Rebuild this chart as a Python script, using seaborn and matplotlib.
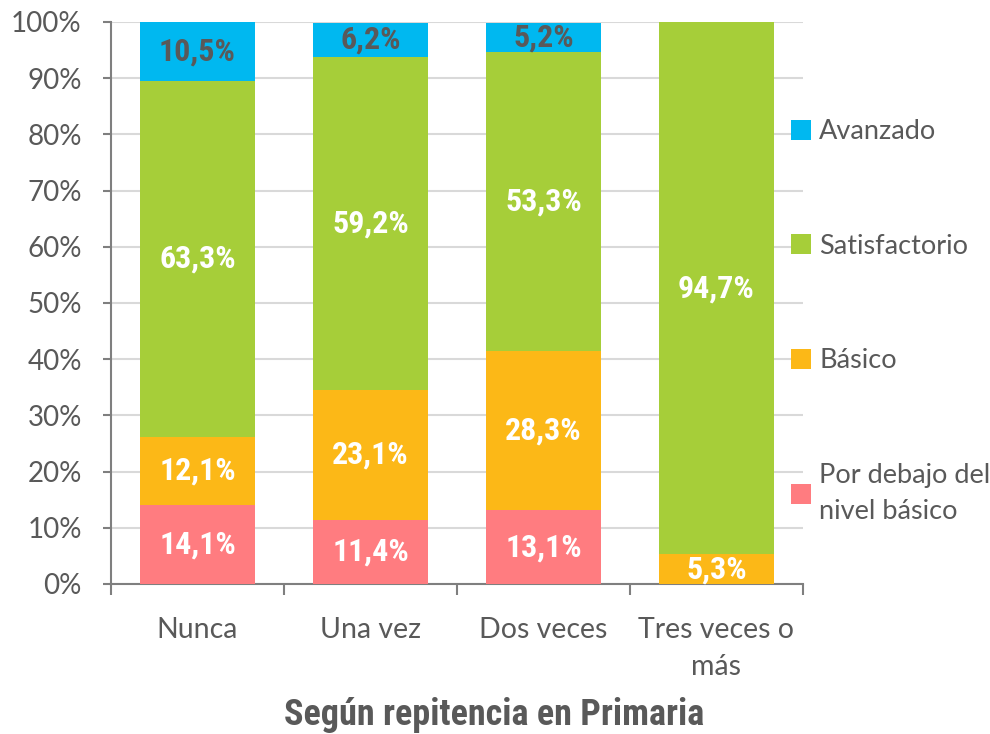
import numpy as np
import pandas as pd
import matplotlib
matplotlib.use("Agg")
import matplotlib.pyplot as plt
import seaborn as sns
from matplotlib.patches import Patch
from matplotlib.ticker import FixedLocator, PercentFormatter

# Datos
categorias = ["Nunca", "Una vez", "Dos veces", "Tres veces o\nmás"]
niveles = ["Por debajo del\nnivel básico", "Básico", "Satisfactorio", "Avanzado"]
por_debajo = [14.1, 11.4, 13.1, 0.0]
basico = [12.1, 23.1, 28.3, 5.3]
satisfactorio = [63.3, 59.2, 53.3, 94.7]
avanzado = [10.5, 6.2, 5.2, 0.0]
colores = ["#FF7C80", "#FCB817", "#A6CE39", "#00B8F0"]
color_etiqueta = ["white", "white", "white", "#595959"]

fuente_cond = ["Roboto Condensed", "Roboto", "DejaVu Sans"]

sns.set_theme(style="white")
plt.rcParams["font.family"] = ["Lato", "DejaVu Sans"]

df = pd.DataFrame({"categoria": categorias, niveles[0]: por_debajo, niveles[1]: basico,
                   niveles[2]: satisfactorio, niveles[3]: avanzado})

fig = plt.figure(figsize=(9.9, 7.34), dpi=100)
ax = fig.add_axes([0.1121, 0.2044, 0.699, 0.7657])

base = np.zeros(len(categorias))
for nivel, color, tc in zip(niveles, colores, color_etiqueta):
    vals = df[nivel].to_numpy()
    sns.barplot(x=df["categoria"], y=vals, bottom=base, color=color, width=0.665,
                ax=ax, saturation=1, linewidth=0, zorder=3)
    for i, v in enumerate(vals):
        if v > 0:
            ax.text(i, base[i] + v / 2, f"{v:.1f}%".replace(".", ","), ha="center", va="center",
                    color=tc, fontsize=23, fontweight="bold", family=fuente_cond, zorder=4)
    base = base + vals

ax.set_xlim(-0.5, 3.5)
ax.set_ylim(0, 100)
ax.yaxis.set_major_locator(FixedLocator(np.arange(0, 101, 10)))
ax.yaxis.set_major_formatter(PercentFormatter(decimals=0))
ax.grid(axis="y", color="#D9D9D9", linewidth=1.5, zorder=0)
ax.set_axisbelow(True)
for s in ["top", "right"]:
    ax.spines[s].set_visible(False)
for s in ["left", "bottom"]:
    ax.spines[s].set_color("#7F7F7F")
    ax.spines[s].set_linewidth(1.5)
ax.tick_params(axis="y", left=True, length=6, width=1.5, color="#7F7F7F",
               labelsize=20, labelcolor="#595959", pad=15)
ax.tick_params(axis="x", which="major", length=0, labelsize=20.5, labelcolor="#595959", pad=24)
ax.xaxis.set_minor_locator(FixedLocator(np.arange(-0.5, 3.6, 1)))
ax.tick_params(axis="x", which="minor", bottom=True, length=8, width=1.5, color="#7F7F7F")
ax.set_xlabel("")
for lbl in ax.get_xticklabels():
    lbl.set_linespacing(1.5)

handles = [Patch(facecolor=c, edgecolor="none") for c in colores][::-1]
leg = fig.legend(handles, niveles[::-1], loc="upper left", bbox_to_anchor=(0.788, 0.852),
                 frameon=False, fontsize=19.5, labelcolor="#595959", handlelength=0.75,
                 handleheight=0.75, handletextpad=0.3, labelspacing=3.3, borderaxespad=0)
for t in leg.get_texts():
    t.set_linespacing(1.55)

fig.text(0.499, 0.002, "Según repitencia en Primaria", ha="center", va="bottom",
         fontsize=26, fontweight="bold", color="#595959", family=fuente_cond)

fig.savefig("out.png", dpi=100)
